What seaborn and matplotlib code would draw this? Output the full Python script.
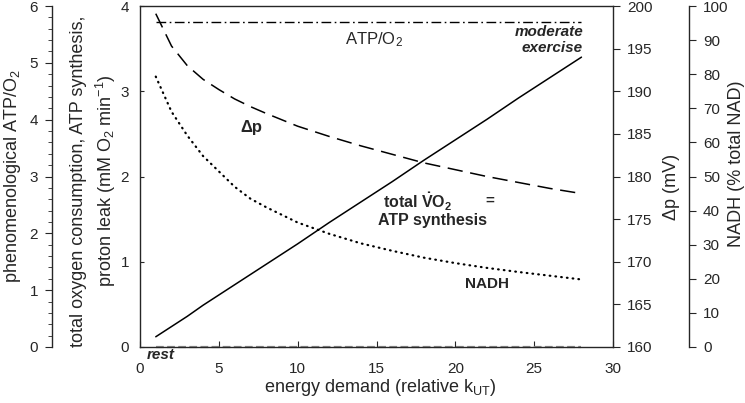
import matplotlib
matplotlib.use("Agg")
import matplotlib.pyplot as plt
import seaborn as sns
import pandas as pd
from matplotlib.ticker import MultipleLocator

# ---- data ----
energy_demand = [1, 2, 3, 4, 5, 6, 7, 8, 10, 12, 14, 16, 18, 20, 22, 24, 26, 28]
total_vo2 = [0.12, 0.24, 0.36, 0.49, 0.61, 0.73, 0.85, 0.97, 1.21, 1.46,
             1.70, 1.94, 2.19, 2.43, 2.67, 2.92, 3.16, 3.40]
proton_leak = [0.0, 0.0, 0.0, 0.0, 0.0, 0.0, 0.0, 0.0, 0.0, 0.0,
               0.0, 0.0, 0.0, 0.0, 0.0, 0.0, 0.0, 0.0]
atp_o2 = [5.72, 5.72, 5.72, 5.72, 5.72, 5.72, 5.72, 5.72, 5.72, 5.72,
          5.72, 5.72, 5.72, 5.72, 5.72, 5.72, 5.72, 5.72]
delta_p = [199.1, 195.3, 193.0, 191.4, 190.2, 189.1, 188.2, 187.4, 185.9, 184.7,
           183.6, 182.6, 181.6, 180.8, 180.0, 179.3, 178.6, 178.0]
nadh = [79.3, 69.0, 62.0, 56.0, 51.5, 47.0, 43.5, 41.0, 36.5, 33.2,
        30.4, 28.2, 26.2, 24.6, 23.2, 22.0, 20.9, 19.8]

df = pd.DataFrame({"x": energy_demand, "vo2": total_vo2, "leak": proton_leak,
                   "atp": atp_o2, "dp": delta_p, "nadh": nadh})

sns.set_style("ticks")
plt.rcParams["font.family"] = ["Liberation Sans", "DejaVu Sans"]
plt.rcParams["mathtext.fontset"] = "custom"
plt.rcParams["mathtext.rm"] = "Liberation Sans"
plt.rcParams["mathtext.it"] = "Liberation Sans:italic"
plt.rcParams["mathtext.bf"] = "Liberation Sans:bold"
plt.rcParams["axes.linewidth"] = 1.0

TICK = 11
LAB = 13
PX = 72 / 100  # points per pixel

fig = plt.figure(figsize=(7.45, 4.03), dpi=100)
ax = fig.add_axes([140 / 745, 1 - 347 / 403, 473 / 745, 341 / 403])
ax_atp = ax.twinx()
ax_dp = ax.twinx()
ax_n = ax.twinx()

# main axis lines
sns.lineplot(data=df, x="x", y="vo2", ax=ax, color="black", lw=1.1)
sns.lineplot(data=df, x="x", y="leak", ax=ax, color="#8c8c8c", lw=1.6)
ax.lines[-1].set_linestyle((0, (3.5, 1.5)))
ax.lines[-1].set_clip_on(False)

sns.lineplot(data=df, x="x", y="atp", ax=ax_atp, color="black", lw=1.0)
ax_atp.lines[-1].set_linestyle((0, (7, 2.5, 1.2, 2.5)))

sns.lineplot(data=df, x="x", y="dp", ax=ax_dp, color="black", lw=1.1)
ax_dp.lines[-1].set_linestyle((0, (10, 5)))

sns.lineplot(data=df, x="x", y="nadh", ax=ax_n, color="black", lw=1.6)
ax_n.lines[-1].set_linestyle((0, (0.3, 2.3)))
ax_n.lines[-1].set_dash_capstyle("round")

# main axes
ax.set_xlim(0, 30)
ax.set_ylim(0, 4)
ax.xaxis.set_major_locator(MultipleLocator(5))
ax.yaxis.set_major_locator(MultipleLocator(1))
ax.tick_params(axis="x", direction="in", length=4, labelsize=TICK, pad=11)
ax.tick_params(axis="y", direction="in", length=3, labelsize=TICK, pad=8)
ax.spines["right"].set_visible(False)
ax.set_xlabel(r"energy demand (relative k$_{\mathrm{UT}}$)", fontsize=LAB,
              va="center", ha="center")
ax.xaxis.set_label_coords(0.508, -0.120)
ax.set_ylabel("total oxygen consumption, ATP synthesis,\n"
              r"proton leak (mM O$_2$ min$^{-1}$)", fontsize=LAB,
              linespacing=1.4, va="center", ha="center")
ax.yaxis.set_label_coords(-0.097, 0.487)

# outer left (ATP/O2)
ax_atp.set_ylim(0, 6)
ax_atp.yaxis.set_ticks_position("left")
ax_atp.yaxis.set_label_position("left")
for s in ["top", "bottom", "right"]:
    ax_atp.spines[s].set_visible(False)
ax_atp.spines["left"].set_visible(True)
ax_atp.spines["left"].set_position(("outward", 88 * PX))
ax_atp.yaxis.set_major_locator(MultipleLocator(1))
ax_atp.yaxis.set_minor_locator(MultipleLocator(0.2))
ax_atp.tick_params(axis="y", which="major", direction="out", length=5, labelsize=TICK, pad=5)
ax_atp.tick_params(axis="y", which="minor", direction="out", length=3)
ax_atp.set_ylabel(r"phenomenological ATP/O$_2$", fontsize=LAB, va="center", ha="center")
ax_atp.yaxis.set_label_coords(-0.2706, 0.501)

# inner right (delta p)
ax_dp.set_ylim(160, 200)
for s in ["top", "bottom", "left"]:
    ax_dp.spines[s].set_visible(False)
ax_dp.yaxis.set_major_locator(MultipleLocator(5))
ax_dp.tick_params(axis="y", direction="out", length=5, labelsize=TICK, pad=5)
ax_dp.set_ylabel("Δp (mV)", fontsize=LAB, va="center", ha="center")
ax_dp.yaxis.set_label_coords(1.124, 0.469)

# outer right (NADH)
ax_n.set_ylim(0, 100)
for s in ["top", "bottom", "left"]:
    ax_n.spines[s].set_visible(False)
ax_n.spines["right"].set_position(("outward", 76 * PX))
ax_n.yaxis.set_major_locator(MultipleLocator(10))
ax_n.tick_params(axis="y", direction="out", length=5, labelsize=TICK, pad=5)
ax_n.set_ylabel("NADH (% total NAD)", fontsize=LAB, va="center", ha="center")
ax_n.yaxis.set_label_coords(1.262, 0.537)

ax_atp.set_xlabel("")
ax_dp.set_xlabel("")
ax_n.set_xlabel("")

# annotations (main axis data coords)
FS = 11
ax.text(14.84, 3.60, r"ATP/O$_2$", fontsize=12, ha="center", va="center")
ax.text(28.1, 3.70, "moderate", fontsize=FS, ha="right", va="center",
        fontweight="bold", fontstyle="italic")
ax.text(28.1, 3.51, "exercise", fontsize=FS, ha="right", va="center",
        fontweight="bold", fontstyle="italic")
ax.text(7.08, 2.58, "Δp", fontsize=12, ha="center", va="center", fontweight="bold")
ax.text(15.4, 1.70, r"total $\mathbf{\dot{V}}$O$_\mathbf{2}$", fontsize=11.5, ha="left",
        va="center", fontweight="bold")
ax.text(22.2, 1.72, "=", fontsize=FS, ha="center", va="center", fontweight="bold")
ax.text(18.55, 1.48, "ATP synthesis", fontsize=11.5, ha="center", va="center",
        fontweight="bold")
ax.text(21.98, 0.74, "NADH", fontsize=FS, ha="center", va="center", fontweight="bold")
ax.text(1.33, -0.094, "rest", fontsize=FS, ha="center", va="center",
        fontweight="bold", fontstyle="italic", clip_on=False)

fig.savefig("out.png", dpi=100)
